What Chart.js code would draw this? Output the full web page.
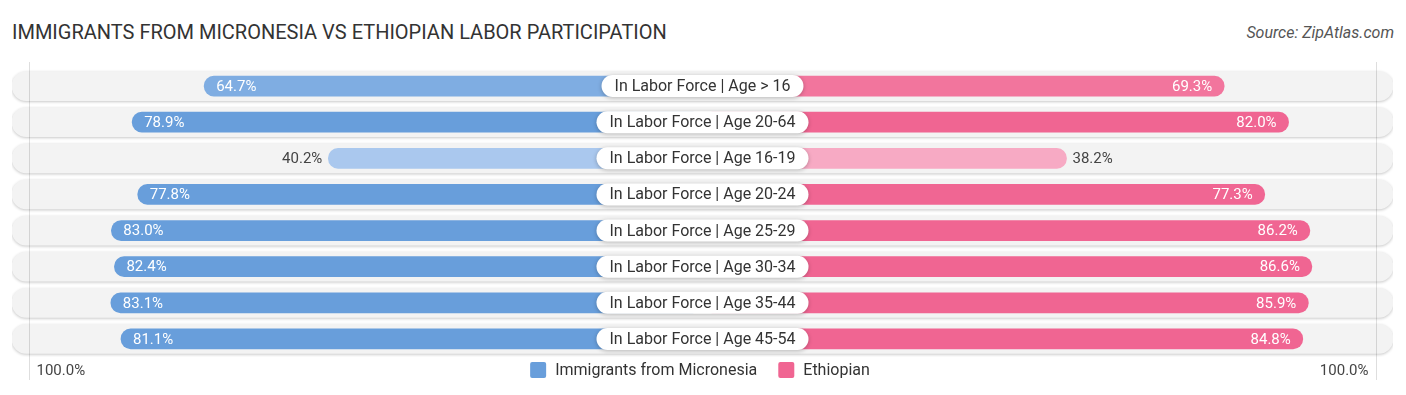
<!DOCTYPE html>
<html>
<head>
<meta charset="utf-8">
<script src="https://cdn.jsdelivr.net/npm/chart.js@4"></script>
<style>
  html, body { margin: 0; padding: 0; background: #fff; }
  .wrap { position: relative; width: 1406px; height: 395px; overflow: hidden; }
  #chart { position: absolute; left: 0; top: 0; }
  .title {
    position: absolute; left: 12px; top: 20px;
    font-family: Roboto, "Noto Sans", sans-serif; font-size: 20px;
    color: #333; white-space: nowrap;
  }
  .source {
    position: absolute; right: 12px; top: 23px;
    font-family: Roboto, "Noto Sans", sans-serif; font-size: 16px;
    font-style: italic; color: #555; white-space: nowrap;
  }
</style>
</head>
<body>
<div class="wrap">
  <div class="title">IMMIGRANTS FROM MICRONESIA VS ETHIOPIAN LABOR PARTICIPATION</div>
  <div class="source">Source: ZipAtlas.com</div>
  <canvas id="chart" width="1406" height="395"></canvas>
</div>
<script>
// =======================================
// DATA
// =======================================
const categories = [
  "In Labor Force | Age > 16",
  "In Labor Force | Age 20-64",
  "In Labor Force | Age 16-19",
  "In Labor Force | Age 20-24",
  "In Labor Force | Age 25-29",
  "In Labor Force | Age 30-34",
  "In Labor Force | Age 35-44",
  "In Labor Force | Age 45-54",
];
const seriesNames = ["Immigrants from Micronesia", "Ethiopian"];
const micronesiaValues = [64.7, 78.9, 40.2, 77.8, 83.0, 82.4, 83.1, 81.1];
const ethiopianValues = [69.3, 82.0, 38.2, 77.3, 86.2, 86.6, 85.9, 84.8];
const edgeTickLabels = ["100.0%", "100.0%"];

// =======================================
// LAYOUT / STYLE
// =======================================
const OFF = 33.6; // room behind the centre label, in % units
const X_MAX = 136.2; // half width of the row pill
const FONT = "Roboto, 'Noto Sans', sans-serif";

const BLUE = { light: [170, 200, 238], strong: [104, 158, 219] };
const PINK = { light: [247, 170, 196], strong: [240, 101, 146] };

function shade(pal, v) {
  let t = (v - 40) / 38;
  t = Math.max(0, Math.min(1, t));
  const c = pal.light.map((l, i) => Math.round(l + (pal.strong[i] - l) * t));
  return `rgb(${c[0]},${c[1]},${c[2]})`;
}

function roundRect(ctx, x, y, w, h, r) {
  ctx.beginPath();
  ctx.moveTo(x + r, y);
  ctx.lineTo(x + w - r, y);
  ctx.arc(x + w - r, y + r, r, -Math.PI / 2, 0);
  ctx.lineTo(x + w, y + h - r);
  ctx.arc(x + w - r, y + h - r, r, 0, Math.PI / 2);
  ctx.lineTo(x + r, y + h);
  ctx.arc(x + r, y + h - r, r, Math.PI / 2, Math.PI);
  ctx.lineTo(x, y + r);
  ctx.arc(x + r, y + r, r, Math.PI, Math.PI * 1.5);
  ctx.closePath();
}

// =======================================
// PLUGIN: shadows, labels, legend
// =======================================
const decorPlugin = {
  id: "decor",
  beforeDatasetDraw(chart, args) {
    if (args.index === 2) {
      const ctx = chart.ctx;
      ctx.save();
      ctx.shadowColor = "rgba(0,0,0,0.22)";
      ctx.shadowBlur = 3;
      ctx.shadowOffsetY = 1;
    }
  },
  afterDatasetDraw(chart, args) {
    if (args.index === 2) chart.ctx.restore();
  },
  afterDatasetsDraw(chart) {
    const ctx = chart.ctx;
    const xs = chart.scales.x;
    const ys = chart.scales.y;

    // edge gridlines near 100%
    const gl = Math.round(xs.getPixelForValue(-(OFF + 100))) + 4.5;
    const gr = Math.round(xs.getPixelForValue(OFF + 100)) - 3.5;
    ctx.save();
    ctx.strokeStyle = "rgba(0,0,0,0.13)";
    ctx.lineWidth = 1;
    [gl, gr].forEach((gx) => {
      ctx.beginPath();
      ctx.moveTo(gx, 62);
      ctx.lineTo(gx, 380);
      ctx.stroke();
    });
    ctx.restore();

    ctx.save();
    ctx.textBaseline = "middle";

    categories.forEach((cat, i) => {
      const y = ys.getPixelForValue(i);
      const vl = micronesiaValues[i];
      const vr = ethiopianValues[i];
      ctx.font = `15px ${FONT}`;

      // left value
      const lx = xs.getPixelForValue(-(OFF + vl));
      if (vl >= 50) {
        ctx.fillStyle = "#fff";
        ctx.textAlign = "left";
        ctx.fillText(vl.toFixed(1) + "%", lx + 12, y + 1);
      } else {
        ctx.fillStyle = "#444";
        ctx.textAlign = "right";
        ctx.fillText(vl.toFixed(1) + "%", lx - 6, y + 1);
      }

      // right value
      const rx = xs.getPixelForValue(OFF + vr);
      if (vr >= 50) {
        ctx.fillStyle = "#fff";
        ctx.textAlign = "right";
        ctx.fillText(vr.toFixed(1) + "%", rx - 12, y + 1);
      } else {
        ctx.fillStyle = "#444";
        ctx.textAlign = "left";
        ctx.fillText(vr.toFixed(1) + "%", rx + 6, y + 1);
      }

      // centre label
      ctx.font = `16px ${FONT}`;
      const cx = xs.getPixelForValue(0);
      const tw = ctx.measureText(cat).width;
      const bw = tw + 26;
      const bh = 22;
      ctx.save();
      ctx.shadowColor = "rgba(0,0,0,0.25)";
      ctx.shadowBlur = 4;
      ctx.shadowOffsetY = 1;
      ctx.fillStyle = "#fff";
      roundRect(ctx, cx - bw / 2, y - bh / 2, bw, bh, bh / 2);
      ctx.fill();
      ctx.restore();
      ctx.fillStyle = "#333";
      ctx.textAlign = "center";
      ctx.fillText(cat, cx, y + 1);
    });

    // 100% labels
    ctx.font = `15px ${FONT}`;
    ctx.fillStyle = "#444";
    ctx.textAlign = "left";
    ctx.fillText(edgeTickLabels[0], gl + 7, 371);
    ctx.textAlign = "right";
    ctx.fillText(edgeTickLabels[1], gr - 8, 371);

    // legend
    ctx.font = `16px ${FONT}`;
    const colors = [shade(BLUE, 100), shade(PINK, 100)];
    const widths = seriesNames.map((n) => ctx.measureText(n).width);
    const box = 16, gap = 9, spacing = 21;
    const total = widths.reduce((a, w) => a + box + gap + w, 0) + spacing;
    let lx = 700 - total / 2;
    const ly = 370;
    seriesNames.forEach((name, k) => {
      ctx.fillStyle = colors[k];
      roundRect(ctx, lx, ly - box / 2, box, box, 2);
      ctx.fill();
      ctx.fillStyle = "#333";
      ctx.textAlign = "left";
      ctx.fillText(name, lx + box + gap, ly + 1);
      lx += box + gap + widths[k] + spacing;
    });
    ctx.restore();
  },
};

// =======================================
// CHART
// =======================================
function initChart() {
  const ctx = document.getElementById("chart").getContext("2d");
  new Chart(ctx, {
    type: "bar",
    data: {
      labels: categories,
      datasets: [
        {
          label: seriesNames[0],
          data: micronesiaValues.map((v) => [-(OFF + v), 0]),
          backgroundColor: micronesiaValues.map((v) => shade(BLUE, v)),
          barThickness: 20,
          borderRadius: 10,
          borderSkipped: false,
          grouped: false,
          order: 1,
        },
        {
          label: seriesNames[1],
          data: ethiopianValues.map((v) => [0, OFF + v]),
          backgroundColor: ethiopianValues.map((v) => shade(PINK, v)),
          barThickness: 20,
          borderRadius: 10,
          borderSkipped: false,
          grouped: false,
          order: 1,
        },
        {
          label: "bg",
          data: categories.map(() => [-X_MAX, X_MAX]),
          backgroundColor: "#f3f3f3",
          barThickness: 29,
          borderRadius: 14.5,
          borderSkipped: false,
          grouped: false,
          order: 3,
        },
      ],
    },
    options: {
      indexAxis: "y",
      responsive: false,
      animation: false,
      layout: { padding: { left: 12, right: 13, top: 68, bottom: 38 } },
      scales: {
        x: { display: false, min: -X_MAX, max: X_MAX },
        y: { display: false },
      },
      plugins: {
        legend: { display: false },
        tooltip: { enabled: false },
      },
    },
    plugins: [decorPlugin],
  });
}

document.addEventListener("DOMContentLoaded", initChart);
</script>
</body>
</html>
